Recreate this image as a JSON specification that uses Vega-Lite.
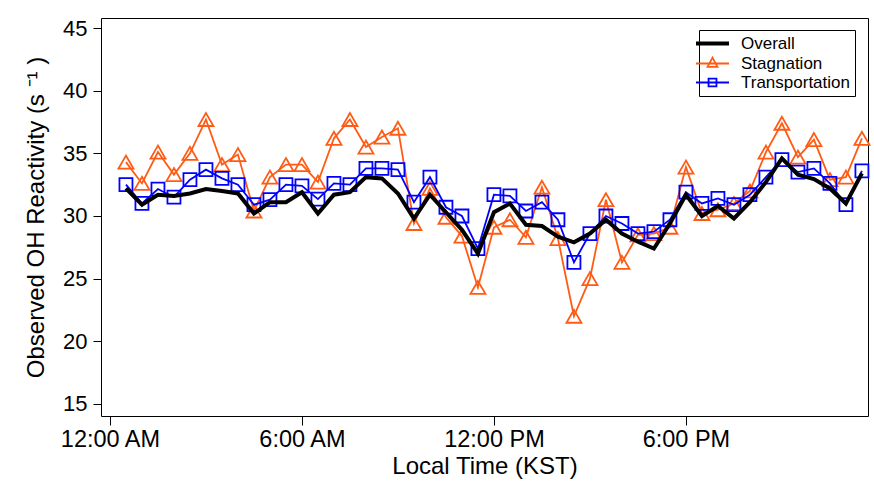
{
  "$schema": "https://vega.github.io/schema/vega-lite/v6.json",
  "width": 767,
  "height": 398,
  "autosize": {"type": "none"},
  "padding": {"left": 101, "top": 18, "right": 6, "bottom": 69},
  "background": "white",
  "config": {
    "view": {"stroke": "black", "strokeWidth": 1},
    "font": "Liberation Sans",
    "axis": {"labelFont": "Liberation Sans", "titleFont": "Liberation Sans", "labelColor": "black", "titleColor": "black", "tickColor": "black", "titleFontWeight": "normal", "grid": false, "domain": false}
  },
  "data": {"values": [
    {"h":0.5,"series":"Overall","v":32.2},{"h":1.0,"series":"Overall","v":30.9},{"h":1.5,"series":"Overall","v":31.7},{"h":2.0,"series":"Overall","v":31.6},{"h":2.5,"series":"Overall","v":31.8},{"h":3.0,"series":"Overall","v":32.15},{"h":3.5,"series":"Overall","v":32.0},{"h":4.0,"series":"Overall","v":31.8},{"h":4.5,"series":"Overall","v":30.2},{"h":5.0,"series":"Overall","v":31.1},{"h":5.5,"series":"Overall","v":31.1},{"h":6.0,"series":"Overall","v":31.9},{"h":6.5,"series":"Overall","v":30.2},{"h":7.0,"series":"Overall","v":31.7},{"h":7.5,"series":"Overall","v":31.9},{"h":8.0,"series":"Overall","v":33.1},{"h":8.5,"series":"Overall","v":33.0},{"h":9.0,"series":"Overall","v":31.8},{"h":9.5,"series":"Overall","v":29.8},{"h":10.0,"series":"Overall","v":31.7},{"h":10.5,"series":"Overall","v":30.3},{"h":11.0,"series":"Overall","v":28.9},{"h":11.5,"series":"Overall","v":27.0},{"h":12.0,"series":"Overall","v":30.3},{"h":12.5,"series":"Overall","v":31.0},{"h":13.0,"series":"Overall","v":29.3},{"h":13.5,"series":"Overall","v":29.2},{"h":14.0,"series":"Overall","v":28.35},{"h":14.5,"series":"Overall","v":27.9},{"h":15.0,"series":"Overall","v":28.6},{"h":15.5,"series":"Overall","v":29.7},{"h":16.0,"series":"Overall","v":28.6},{"h":16.5,"series":"Overall","v":27.95},{"h":17.0,"series":"Overall","v":27.4},{"h":17.5,"series":"Overall","v":29.4},{"h":18.0,"series":"Overall","v":31.7},{"h":18.5,"series":"Overall","v":30.0},{"h":19.0,"series":"Overall","v":30.8},{"h":19.5,"series":"Overall","v":29.8},{"h":20.0,"series":"Overall","v":31.1},{"h":20.5,"series":"Overall","v":32.7},{"h":21.0,"series":"Overall","v":34.6},{"h":21.5,"series":"Overall","v":33.3},{"h":22.0,"series":"Overall","v":32.95},{"h":22.5,"series":"Overall","v":32.2},{"h":23.0,"series":"Overall","v":31.0},{"h":23.5,"series":"Overall","v":33.4},
    {"h":0.5,"series":"Stagnation","v":34.3},{"h":1.0,"series":"Stagnation","v":32.6},{"h":1.5,"series":"Stagnation","v":35.1},{"h":2.0,"series":"Stagnation","v":33.3},{"h":2.5,"series":"Stagnation","v":35.0},{"h":3.0,"series":"Stagnation","v":37.7},{"h":3.5,"series":"Stagnation","v":34.1},{"h":4.0,"series":"Stagnation","v":34.9},{"h":4.5,"series":"Stagnation","v":30.4},{"h":5.0,"series":"Stagnation","v":33.1},{"h":5.5,"series":"Stagnation","v":34.1},{"h":6.0,"series":"Stagnation","v":34.1},{"h":6.5,"series":"Stagnation","v":32.7},{"h":7.0,"series":"Stagnation","v":36.2},{"h":7.5,"series":"Stagnation","v":37.7},{"h":8.0,"series":"Stagnation","v":35.5},{"h":8.5,"series":"Stagnation","v":36.3},{"h":9.0,"series":"Stagnation","v":37.0},{"h":9.5,"series":"Stagnation","v":29.4},{"h":10.0,"series":"Stagnation","v":32.2},{"h":10.5,"series":"Stagnation","v":29.9},{"h":11.0,"series":"Stagnation","v":28.4},{"h":11.5,"series":"Stagnation","v":24.3},{"h":12.0,"series":"Stagnation","v":29.1},{"h":12.5,"series":"Stagnation","v":29.7},{"h":13.0,"series":"Stagnation","v":28.3},{"h":13.5,"series":"Stagnation","v":32.3},{"h":14.0,"series":"Stagnation","v":28.2},{"h":14.5,"series":"Stagnation","v":22.0},{"h":15.0,"series":"Stagnation","v":25.0},{"h":15.5,"series":"Stagnation","v":31.3},{"h":16.0,"series":"Stagnation","v":26.3},{"h":16.5,"series":"Stagnation","v":28.5},{"h":17.0,"series":"Stagnation","v":28.6},{"h":17.5,"series":"Stagnation","v":29.1},{"h":18.0,"series":"Stagnation","v":33.9},{"h":18.5,"series":"Stagnation","v":30.2},{"h":19.0,"series":"Stagnation","v":30.5},{"h":19.5,"series":"Stagnation","v":31.0},{"h":20.0,"series":"Stagnation","v":32.0},{"h":20.5,"series":"Stagnation","v":35.1},{"h":21.0,"series":"Stagnation","v":37.4},{"h":21.5,"series":"Stagnation","v":34.7},{"h":22.0,"series":"Stagnation","v":36.1},{"h":22.5,"series":"Stagnation","v":32.9},{"h":23.0,"series":"Stagnation","v":33.1},{"h":23.5,"series":"Stagnation","v":36.2},
    {"h":0.5,"series":"Transportation","v":32.5},{"h":1.0,"series":"Transportation","v":31.0},{"h":1.5,"series":"Transportation","v":32.15},{"h":2.0,"series":"Transportation","v":31.5},{"h":2.5,"series":"Transportation","v":32.9},{"h":3.0,"series":"Transportation","v":33.7},{"h":3.5,"series":"Transportation","v":33.0},{"h":4.0,"series":"Transportation","v":32.5},{"h":4.5,"series":"Transportation","v":30.9},{"h":5.0,"series":"Transportation","v":31.3},{"h":5.5,"series":"Transportation","v":32.5},{"h":6.0,"series":"Transportation","v":32.4},{"h":6.5,"series":"Transportation","v":31.35},{"h":7.0,"series":"Transportation","v":32.6},{"h":7.5,"series":"Transportation","v":32.5},{"h":8.0,"series":"Transportation","v":33.8},{"h":8.5,"series":"Transportation","v":33.8},{"h":9.0,"series":"Transportation","v":33.7},{"h":9.5,"series":"Transportation","v":31.1},{"h":10.0,"series":"Transportation","v":33.1},{"h":10.5,"series":"Transportation","v":30.7},{"h":11.0,"series":"Transportation","v":30.0},{"h":11.5,"series":"Transportation","v":27.4},{"h":12.0,"series":"Transportation","v":31.7},{"h":12.5,"series":"Transportation","v":31.6},{"h":13.0,"series":"Transportation","v":30.4},{"h":13.5,"series":"Transportation","v":31.1},{"h":14.0,"series":"Transportation","v":29.7},{"h":14.5,"series":"Transportation","v":26.3},{"h":15.0,"series":"Transportation","v":28.6},{"h":15.5,"series":"Transportation","v":30.0},{"h":16.0,"series":"Transportation","v":29.4},{"h":16.5,"series":"Transportation","v":28.6},{"h":17.0,"series":"Transportation","v":28.75},{"h":17.5,"series":"Transportation","v":29.7},{"h":18.0,"series":"Transportation","v":31.9},{"h":18.5,"series":"Transportation","v":31.0},{"h":19.0,"series":"Transportation","v":31.4},{"h":19.5,"series":"Transportation","v":30.9},{"h":20.0,"series":"Transportation","v":31.7},{"h":20.5,"series":"Transportation","v":33.1},{"h":21.0,"series":"Transportation","v":34.5},{"h":21.5,"series":"Transportation","v":33.5},{"h":22.0,"series":"Transportation","v":33.8},{"h":22.5,"series":"Transportation","v":32.6},{"h":23.0,"series":"Transportation","v":30.9},{"h":23.5,"series":"Transportation","v":33.6}
  ]},
  "encoding": {
    "x": {"field": "h", "type": "quantitative",
      "scale": {"domain": [-0.28, 23.69], "nice": false, "zero": false},
      "axis": {"values": [0, 6, 12, 18], "labelExpr": "datum.value == 0 ? '12:00 AM' : datum.value == 6 ? '6:00 AM' : datum.value == 12 ? '12:00 PM' : '6:00 PM'", "title": "Local Time (KST)", "tickSize": 9, "labelFontSize": 23.5, "titleFontSize": 24, "labelPadding": 2, "titlePadding": 4, "labelFlush": false}},
    "y": {"field": "v", "type": "quantitative",
      "scale": {"domain": [14.04, 45.8], "nice": false, "zero": false},
      "axis": {"values": [15, 20, 25, 30, 35, 40, 45], "title": "Observed OH Reactivity (s ⁻¹ )", "tickSize": 8, "labelFontSize": 22, "titleFontSize": 24, "labelPadding": 6, "titlePadding": 14}}
  },
  "layer": [
    {"transform": [{"filter": "datum.series == 'Stagnation'"}],
     "mark": {"type": "line", "strokeWidth": 1.8},
     "encoding": {"color": {"field": "series", "type": "nominal",
        "scale": {"domain": ["Overall", "Stagnation", "Transportation"], "range": ["black", "#ff5b14", "#0000ff"]},
        "legend": {"orient": "none", "legendX": 598, "legendY": 12, "title": null, "padding": 5, "strokeColor": "black", "fillColor": "white", "symbolSize": 1089, "labelFontSize": 17, "labelFont": "Liberation Sans", "labelColor": "black", "labelOffset": 20, "rowPadding": 1, "cornerRadius": 0, "symbolStrokeWidth": 2,
          "encode": {"symbols": {"update": {
            "shape": {"signal": "datum.value === 'Stagnation' ? 'M-1,0H1M0,-0.36L0.3,0.2L-0.3,0.2Z' : datum.value === 'Transportation' ? 'M-1,0H1M-0.24,-0.24H0.24V0.24H-0.24Z' : 'M-1,0H1'"},
            "strokeWidth": {"signal": "datum.value === 'Overall' ? 4 : 1.8"},
            "fill": {"value": "transparent"}
          }}}}}}},
    {"transform": [{"filter": "datum.series == 'Stagnation'"}],
     "mark": {"type": "point", "shape": "triangle-up", "size": 225, "filled": false, "color": "#ff5b14", "strokeWidth": 1.8, "opacity": 1}},
    {"transform": [{"filter": "datum.series == 'Transportation'"}],
     "mark": {"type": "line", "strokeWidth": 1.8},
     "encoding": {"color": {"field": "series", "type": "nominal"}}},
    {"transform": [{"filter": "datum.series == 'Transportation'"}],
     "mark": {"type": "point", "shape": "square", "size": 169, "filled": false, "color": "#0000ff", "strokeWidth": 1.8, "opacity": 1}},
    {"transform": [{"filter": "datum.series == 'Overall'"}],
     "mark": {"type": "line", "strokeWidth": 4},
     "encoding": {"color": {"field": "series", "type": "nominal"}}}
  ]
}
